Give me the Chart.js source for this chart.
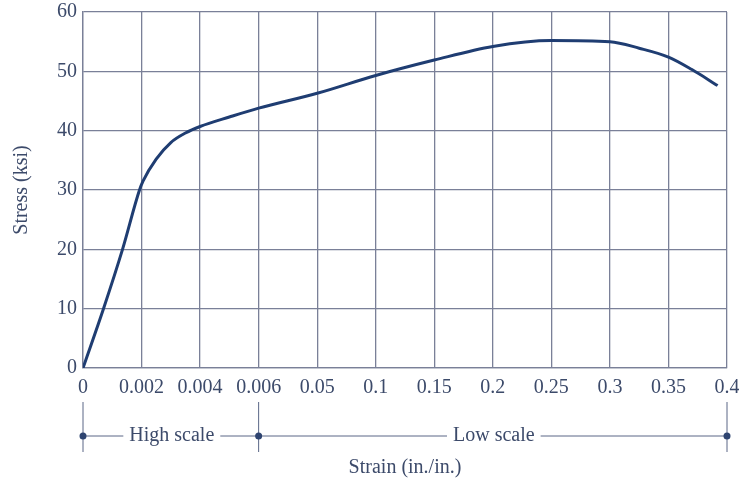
<!DOCTYPE html>
<html lang="en">
<head>
<meta charset="UTF-8">
<title>Stress-strain</title>
<script src="https://cdn.jsdelivr.net/npm/chart.js"></script>
<style>
  html, body { margin: 0; padding: 0; background: #fff; }
  #wrap { width: 739px; height: 484px; }
</style>
</head>
<body>
<div id="wrap"><canvas id="grafico"></canvas></div>
<script>
// tick labels of the broken strain axis (high scale up to 0.006, low scale after)
var strainTicks = [0, 0.002, 0.004, 0.006, 0.05, 0.1, 0.15, 0.2, 0.25, 0.3, 0.35, 0.4];
var stressTicks = [0, 10, 20, 30, 40, 50, 60];

// curve
var strain = [0, 0.0007, 0.00135, 0.00193, 0.00205, 0.0025, 0.003, 0.0035, 0.004, 0.005, 0.006,
              0.05, 0.1, 0.15, 0.2, 0.25, 0.3, 0.325, 0.35, 0.37, 0.392];
var stress = [0, 10, 20, 30, 31.5, 35.2, 38, 39.6, 40.7, 42.3, 43.8,
              46.3, 49.3, 51.9, 54.2, 55.2, 55.0, 53.9, 52.4, 50.3, 47.6];

var textColor = '#3c4a6a';
var gridColor = '#7a8098';
var serif = 'Liberation Serif';

// strain -> position along the evenly spaced grid
function posicao(s) {
    for (var i = 1; i < strainTicks.length; i++) {
        if (s <= strainTicks[i]) {
            var a = strainTicks[i - 1], b = strainTicks[i];
            return (i - 1) + (s - a) / (b - a);
        }
    }
    return strainTicks.length - 1;
}

var pontos = [];
for (var i = 0; i < strain.length; i++) {
    pontos.push({ x: posicao(strain[i]), y: stress[i] });
}

// bracket below the axis: "High scale" / "Low scale"
var escalas = {
    id: 'escalas',
    afterDraw: function (chart) {
        var ctx = chart.ctx;
        var x = chart.scales.x;
        var x0 = x.getPixelForValue(0);
        var x1 = x.getPixelForValue(3);
        var x2 = x.getPixelForValue(11);
        var y = 436;
        ctx.save();
        ctx.strokeStyle = '#5a6686';
        ctx.lineWidth = 1;
        ctx.font = '20px "' + serif + '"';
        ctx.textBaseline = 'middle';
        ctx.textAlign = 'center';

        var t1 = 'High scale', t2 = 'Low scale';
        var c1 = (x0 + x1) / 2 + 1, c2 = (x1 + x2) / 2 + 1;
        var w1 = ctx.measureText(t1).width / 2 + 6;
        var w2 = ctx.measureText(t2).width / 2 + 6;

        ctx.beginPath();
        ctx.moveTo(x0, y); ctx.lineTo(c1 - w1, y);
        ctx.moveTo(c1 + w1, y); ctx.lineTo(c2 - w2, y);
        ctx.moveTo(c2 + w2, y); ctx.lineTo(x2, y);
        [x0, x1, x2].forEach(function (px) {
            ctx.moveTo(px, 402); ctx.lineTo(px, 452);
        });
        ctx.stroke();

        ctx.fillStyle = textColor;
        ctx.fillText(t1, c1, y);
        ctx.fillText(t2, c2, y);

        ctx.fillStyle = '#2e4470';
        [x0, x1, x2].forEach(function (px) {
            ctx.beginPath();
            ctx.arc(px, y, 3.5, 0, Math.PI * 2);
            ctx.fill();
        });
        ctx.restore();
    }
};

new Chart(document.getElementById('grafico'), {
    type: 'line',
    data: {
        datasets: [{
            data: pontos,
            borderColor: '#1f3d72',
            borderWidth: 3,
            pointRadius: 0,
            fill: false,
            cubicInterpolationMode: 'monotone'
        }]
    },
    options: {
        responsive: true,
        maintainAspectRatio: false,
        animation: false,
        layout: { padding: 0 },
        plugins: {
            legend: { display: false },
            tooltip: { enabled: false }
        },
        scales: {
            x: {
                type: 'linear',
                min: 0,
                max: strainTicks.length - 1,
                afterBuildTicks: function (axis) {
                    axis.ticks = strainTicks.map(function (v, i) { return { value: i }; });
                },
                afterFit: function (axis) {
                    axis.height = 116;
                    axis.paddingLeft = 0;
                    axis.paddingRight = 12;
                },
                grid: { color: gridColor, lineWidth: 1.3, drawTicks: false },
                border: { color: gridColor, width: 1.3 },
                ticks: {
                    color: textColor,
                    padding: 8,
                    maxRotation: 0,
                    autoSkip: false,
                    font: { family: serif, size: 20 },
                    callback: function (v) { return String(strainTicks[v]); }
                },
                title: {
                    display: true,
                    text: 'Strain (in./in.)',
                    color: textColor,
                    font: { family: serif, size: 20 },
                    padding: { top: 0, bottom: 4 }
                }
            },
            y: {
                min: 0,
                max: 60,
                afterBuildTicks: function (axis) {
                    axis.ticks = stressTicks.map(function (v) { return { value: v }; });
                },
                afterFit: function (axis) {
                    axis.width = 83;
                    axis.paddingTop = 12;
                    axis.paddingBottom = 0;
                },
                grid: { color: gridColor, lineWidth: 1.3, drawTicks: false },
                border: { color: gridColor, width: 1.3 },
                ticks: {
                    color: textColor,
                    padding: 6,
                    font: { family: serif, size: 20 }
                },
                title: {
                    display: true,
                    text: 'Stress (ksi)',
                    color: textColor,
                    font: { family: serif, size: 20 },
                    padding: { top: 10, bottom: 0 }
                }
            }
        }
    },
    plugins: [escalas]
});
</script>
</body>
</html>
